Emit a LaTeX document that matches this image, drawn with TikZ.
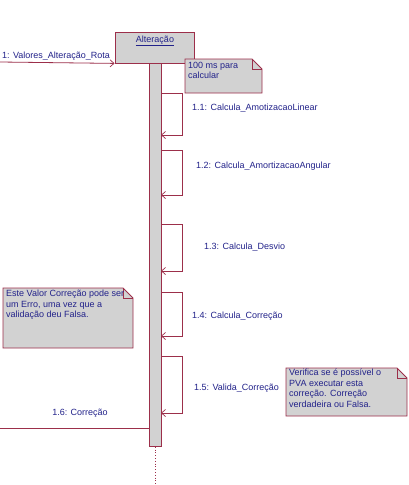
\documentclass[tikz,border=0pt]{standalone}
\usepackage{fontspec}
\setmainfont{Liberation Sans}
\usetikzlibrary{arrows.meta}
\definecolor{umlline}{HTML}{9C2F4A}
\definecolor{umltext}{HTML}{22228A}
\definecolor{umlfill}{HTML}{D2D2D2}
\begin{document}
\begin{tikzpicture}[x=1pt,y=-1pt,
  every node/.style={font=\fontsize{9}{10.5}\selectfont, text=umltext, inner sep=0pt},
  ln/.style={draw=umlline, line width=0.8pt},
  objbox/.style={ln, fill=umlfill, rectangle},
  actbar/.style={ln, fill=umlfill, rectangle},
  msg/.style={ln, -{Straight Barb[length=4pt,width=7pt,line width=0.7pt]}},
  notefill/.style={ln, fill=umlfill},
  notetext/.style={align=left, anchor=north west},
  lbl/.style={anchor=west}
]
\useasboundingbox (0,0) rectangle (409,485);
\fill[white] (0,0) rectangle (409,485);

% object
\node[objbox, minimum width=79pt, minimum height=31pt] (obj) at (154.5,47.5) {};
\node (objlabel) at (155,41) {\underline{Altera\c{c}\~ao}};

% activation bar
\node[actbar, minimum width=12pt, minimum height=383pt, anchor=north] (bar) at (155,63) {};
\coordinate (lifeend) at (155,485);
\draw[ln, dotted, line width=1pt] (bar.south) -- (lifeend);

% incoming message 1
\coordinate (src) at (0,62);
\draw[msg] (src) -- (obj.south west);
\node[lbl] (m1) at (2,56) {1: Valores\_Altera\c{c}\~ao\_Rota};

% note 1
\draw[notefill] (185,59) -- (252,59) -- (262,69) -- (262,93) -- (185,93) -- cycle;
\draw[ln] (252,59) -- (252,69) -- (262,69);
\node[notetext] (n1) at (188,62) {100 ms para\\calcular};

% self messages
\foreach \t/\b/\nm in {93/135/a, 150/195/b, 224/271/c, 292/336/d, 356/413/e}{
  \coordinate (\nm top) at (161,\t);
  \coordinate (\nm bot) at (161,\b);
  \draw[msg] (\nm top) -- ++(21,0) |- (\nm bot);
}
\node[lbl] (l11) at (192,108) {1.1: Calcula\_AmotizacaoLinear};
\node[lbl] (l12) at (196,166) {1.2: Calcula\_AmortizacaoAngular};
\node[lbl] (l13) at (204,247) {1.3: Calcula\_Desvio};
\node[lbl] (l14) at (192,316) {1.4: Calcula\_Corre\c{c}\~ao};
\node[lbl] (l15) at (194,388) {1.5: Valida\_Corre\c{c}\~ao};

% note 2 (left)
\draw[notefill] (3,288) -- (123,288) -- (133,298) -- (133,348) -- (3,348) -- cycle;
\draw[ln] (123,288) -- (123,298) -- (133,298);
\node[notetext] (n2) at (6,290) {Este Valor Corre\c{c}\~ao pode ser\\um Erro, uma vez que a\\valida\c{c}\~ao deu Falsa.};

% note 3 (right)
\draw[notefill] (286,368) -- (397,368) -- (407,378) -- (407,416) -- (286,416) -- cycle;
\draw[ln] (397,368) -- (397,378) -- (407,378);
\node[notetext] (n3) at (289,369) {Verifica se \'e poss\'ivel o\\PVA executar esta\\corre\c{c}\~ao. Corre\c{c}\~ao\\verdadeira ou Falsa.};

% return message 1.6
\coordinate (dst) at (0,428);
\draw[ln] (bar.west |- dst) -- (dst);
\node (l16) at (80,413) {1.6: Corre\c{c}\~ao};
\end{tikzpicture}
\end{document}
